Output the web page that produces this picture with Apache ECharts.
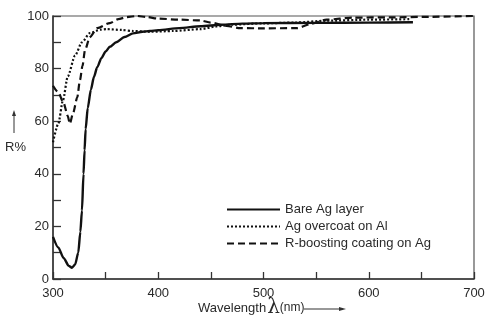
<!DOCTYPE html>
<html>
<head>
<meta charset="utf-8">
<script src="https://cdn.jsdelivr.net/npm/echarts@6/dist/echarts.min.js"></script>
<style>html,body{margin:0;padding:0;background:#fff}#c{width:500px;height:323px}</style>
</head>
<body>
<div id="c"></div>
<script>
const seriesNames = ['Bare Ag layer', 'Ag overcoat on Al', 'R-boosting coating on Ag'];
const bareAg = [[300,16],[305,12],[310,8],[315,5],[318,4.3],[321,5.5],[324,10],[326,18],[327.5,26],[329,40],[330,49],[331,57],[333,65],[336,72],[339,77],[342,80.5],[346,84],[350,86.5],[354,88.3],[360,90],[368,92],[376,93.4],[385,94],[392,94.3],[400,94.6],[420,95.4],[440,96.1],[460,96.7],[480,97.1],[500,97.3],[550,97.4],[600,97.5],[642,97.6]];
const agOnAl = [[300,52],[305,59],[309.5,68],[314,77],[321,85],[327.5,90],[335,93.5],[345,94.8],[351,95],[365,94.7],[376,94.3],[392,94],[414,94.3],[440,95],[455,96],[470,96.7],[500,97.2],[530,97.5],[560,98.2],[600,98.6],[640,98.8]];
const rBoost = [[300,73.5],[305,71],[310,67],[314,62],[316,59],[319,63],[323,69],[325.6,75.6],[328,81],[330.4,87],[335,92],[342,95.4],[354,97.3],[362,98.8],[370,99.6],[380,100],[389,99.6],[400,99],[420,98.6],[440,98.3],[450,97.5],[465,96.2],[478,95.4],[500,95.3],[532,95.4],[545,97],[560,98.6],[585,99.4],[620,99.5],[660,99.7],[699,100]];
const xTicks = [300,400,500,600,700];
const yTicks = [0,20,40,60,80,100];

const chart = echarts.init(document.getElementById('c'), null, {renderer:'canvas'});
const txt = '#2a2a2a';
const font = 'Liberation Sans, Arial, sans-serif';
function mkSeries(name, data, width, dash){
  return {name, type:'line', data, symbol:'none', smooth:0.25, smoothMonotone:'x', z:3,
    itemStyle:{color:'#111'},
    lineStyle:{color:'#111', width, type: dash}};
}
chart.setOption({
  animation:false,
  backgroundColor:'#fff',
  grid:{left:53, right:26, top:16, bottom:44, show:true, borderColor:'#555', borderWidth:1.2, backgroundColor:'transparent'},
  xAxis:{type:'value', min:300, max:700, interval:50,
    axisLine:{lineStyle:{color:'#333', width:1.5}},
    axisTick:{inside:true, length:7, lineStyle:{color:'#333', width:1.3}},
    splitLine:{show:false},
    axisLabel:{color:txt, fontSize:13, fontFamily:font, margin:8,
      formatter:v => xTicks.includes(v) ? String(v) : ''}
  },
  yAxis:{type:'value', min:0, max:100, interval:10,
    axisLine:{show:true, lineStyle:{color:'#333', width:1.5}},
    axisTick:{show:true, inside:true, length:8, lineStyle:{color:'#333', width:1.3}},
    splitLine:{show:false},
    axisLabel:{color:txt, fontSize:13, fontFamily:font, margin:4,
      formatter:v => yTicks.includes(v) ? String(v) : ''}
  },
  legend:{orient:'vertical', left:221, top:198, itemWidth:53, itemHeight:14, itemGap:4, itemTextGap:7,
    itemStyle:{opacity:0},
    textStyle:{color:txt, fontSize:13, fontFamily:font},
    data:seriesNames},
  series:[
    mkSeries(seriesNames[0], bareAg, 2.4, 'solid'),
    mkSeries(seriesNames[1], agOnAl, 2.2, [2,2]),
    mkSeries(seriesNames[2], rBoost, 2.2, [7,4])
  ],
  graphic:[
    {type:'text', left:198, top:298, style:{
      text:'Wavelength{l|λ}{n|(nm)}', fill:txt, font:'13px '+font,
      rich:{l:{fontSize:20, fontFamily:'DejaVu Serif, serif', fill:txt, padding:[0,0,0,1]},
            n:{fontSize:12, fontFamily:font, fill:txt}}}},
    {type:'line', shape:{x1:304, y1:309, x2:343, y2:309}, style:{stroke:'#333', lineWidth:1.2}},
    {type:'polygon', shape:{points:[[346,309],[339,307],[339,311]]}, style:{fill:'#333'}},
    {type:'text', left:5, top:141, style:{text:'R%', fill:txt, font:'13px '+font}},
    {type:'line', shape:{x1:14, y1:133, x2:14, y2:113}, style:{stroke:'#333', lineWidth:1}},
    {type:'polygon', shape:{points:[[14,110],[12,116],[16,116]]}, style:{fill:'#333'}}
  ]
});
</script>
</body>
</html>
